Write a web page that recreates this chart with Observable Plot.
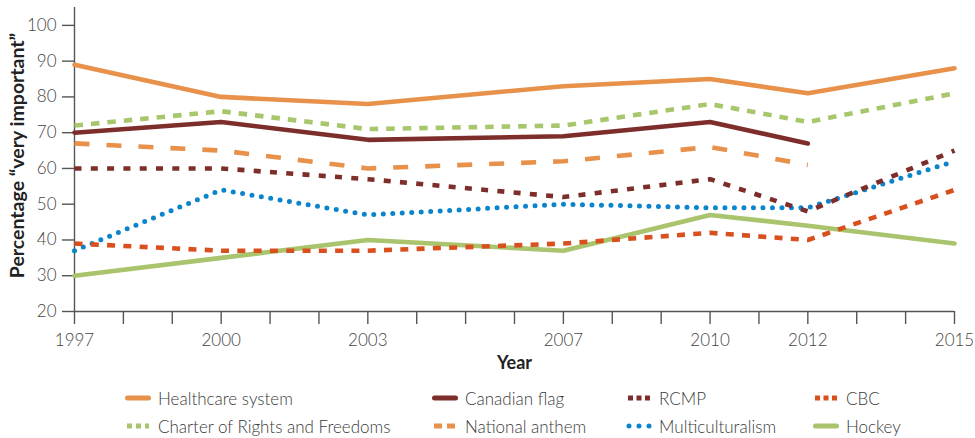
<!DOCTYPE html>
<html><head><meta charset="utf-8">
<script src="https://cdn.jsdelivr.net/npm/d3@7"></script>
<script src="https://cdn.jsdelivr.net/npm/@observablehq/plot@0.6"></script>
<style>
body{margin:0;background:#fff;font-family:Lato,"Open Sans",sans-serif;}
#chart{position:relative;width:975px;height:438px;overflow:hidden;}
#legend{position:absolute;left:0;top:375px;width:975px;height:63px;}
.item{position:absolute;display:flex;align-items:center;font-size:17px;font-weight:300;color:#3a3a3a;white-space:nowrap;height:20px;}
.item svg{display:block;}
</style></head><body><div id="chart"></div>
<script>
const years = [1997, 2000, 2003, 2007, 2010, 2012, 2015];
const labeledYears = [1997, 2000, 2003, 2007, 2010, 2012, 2015];
const yTicks = [20, 30, 40, 50, 60, 70, 80, 90, 100];
const healthcare = [89, 80, 78, 83, 85, 81, 88];
const charter = [72, 76, 71, 72, 78, 73, 81];
const flag = [70, 73, 68, 69, 73, 67];
const anthem = [67, 65, 60, 62, 66, 61];
const rcmp = [60, 60, 57, 52, 57, 48, 65];
const multiculturalism = [37, 54, 47, 50, 49, 49, 62];
const cbc = [39, 37, 37, 39, 42, 40, 54];
const hockey = [30, 35, 40, 37, 47, 44, 39];

const seriesNames = ["Hockey", "Healthcare system", "Charter of Rights and Freedoms", "Canadian flag", "National anthem", "Multiculturalism", "RCMP", "CBC"];
const seriesValues = [hockey, healthcare, charter, flag, anthem, multiculturalism, rcmp, cbc];

const styles = {
  "Healthcare system": {stroke: "#E8914B", dash: null, legendDash: null},
  "Canadian flag": {stroke: "#7D2E2B", dash: null, legendDash: null},
  "RCMP": {stroke: "#7D2E2B", dash: "7,9.3", legendDash: "5,3.5"},
  "CBC": {stroke: "#D9501E", dash: "8,8.3", legendDash: "5,3.5"},
  "Charter of Rights and Freedoms": {stroke: "#A8C66C", dash: "8.5,8", legendDash: "5,4"},
  "National anthem": {stroke: "#E8914B", dash: "15,17", legendDash: "8,5"},
  "Multiculturalism": {stroke: "#0A85CC", dash: "0,9.5", legendDash: "0,10", round: true},
  "Hockey": {stroke: "#A9C46C", dash: null, legendDash: null}
};

const tables = seriesNames.map((name, k) =>
  years.map((year, i) => ({year, value: seriesValues[k][i], name})).filter(d => d.value != null)
);

const lineMarks = tables.map((data, k) => {
  const s = styles[seriesNames[k]];
  const opts = {x: "year", y: "value", stroke: s.stroke, strokeWidth: 4.6, strokeLinejoin: "round"};
  if (s.dash) {
    opts.strokeDasharray = s.dash;
    opts.strokeLinecap = s.round ? "round" : "butt";
    if (s.round) opts.strokeWidth = 5;
  } else {
    opts.strokeLinecap = "round";
  }
  return Plot.line(data, opts);
});

const chart = Plot.plot({
  width: 975,
  height: 375,
  marginLeft: 74,
  marginRight: 21,
  marginTop: 7,
  marginBottom: 64,
  style: {fontFamily: "Lato, 'Open Sans', sans-serif", color: "#555", background: "#fff", overflow: "visible"},
  x: {domain: [1997, 2015]},
  y: {domain: [20, 105]},
  marks: [
    Plot.axisY({ticks: yTicks, tickSize: 12, tickPadding: 6, fontSize: 17, fontWeight: 300, label: null, strokeWidth: 1.4, stroke: "#555", fill: "#444"}),
    Plot.axisX({ticks: d3.range(1997, 2016), tickFormat: d => labeledYears.includes(d) ? String(d) : "", tickSize: 13, tickPadding: 9, fontSize: 17, fontWeight: 300, label: null, strokeWidth: 1.4, stroke: "#555", fill: "#444"}),
    Plot.ruleX([1997], {stroke: "#555", strokeWidth: 1.4}),
    Plot.ruleY([20], {stroke: "#555", strokeWidth: 1.4}),
    ...lineMarks,
    Plot.text(["Percentage \u201cvery important\u201d"], {frameAnchor: "left", dx: -57, dy: -4, rotate: -90, fontSize: 19.5, fontWeight: "bold", fill: "#222", textAnchor: "middle"}),
    Plot.text(["Year"], {frameAnchor: "bottom", lineAnchor: "middle", dy: 52, fontSize: 18, fontWeight: "bold", fill: "#222"})
  ]
});

const root = document.getElementById("chart");
root.appendChild(chart);

const legend = document.createElement("div");
legend.id = "legend";
root.appendChild(legend);

const legendOrder = ["Healthcare system", "Canadian flag", "RCMP", "CBC", "Charter of Rights and Freedoms", "National anthem", "Multiculturalism", "Hockey"];
const colX = [125, 432, 626, 813];
const rowY = [13, 41];
legendOrder.forEach((name, i) => {
  const s = styles[name];
  const item = document.createElement("div");
  item.className = "item";
  item.style.left = colX[i % 4] + "px";
  item.style.top = rowY[Math.floor(i / 4)] + "px";
  const svgNS = "http://www.w3.org/2000/svg";
  const sw = document.createElementNS(svgNS, "svg");
  sw.setAttribute("width", 26);
  sw.setAttribute("height", 10);
  sw.style.marginRight = "7px";
  const ln = document.createElementNS(svgNS, "line");
  ln.setAttribute("y1", 5); ln.setAttribute("y2", 5);
  ln.setAttribute("stroke", s.stroke);
  if (!s.legendDash) {
    ln.setAttribute("x1", 2.5); ln.setAttribute("x2", 23.5);
    ln.setAttribute("stroke-width", 5);
    ln.setAttribute("stroke-linecap", "round");
  } else if (s.round) {
    ln.setAttribute("x1", 3); ln.setAttribute("x2", 24);
    ln.setAttribute("stroke-width", 5);
    ln.setAttribute("stroke-linecap", "round");
    ln.setAttribute("stroke-dasharray", s.legendDash);
  } else {
    ln.setAttribute("x1", 2); ln.setAttribute("x2", 24);
    ln.setAttribute("stroke-width", 5);
    ln.setAttribute("stroke-dasharray", s.legendDash);
  }
  sw.appendChild(ln);
  item.appendChild(sw);
  const t = document.createElement("span");
  t.textContent = name;
  item.appendChild(t);
  legend.appendChild(item);
});
</script>
</body></html>
